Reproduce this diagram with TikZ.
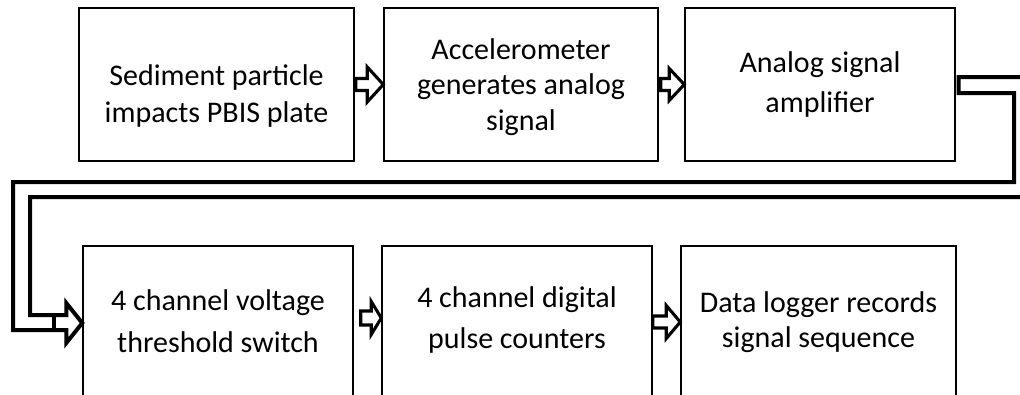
\documentclass[tikz,border=0pt]{standalone}
\usepackage{fontspec}
\setmainfont{Carlito}
\usetikzlibrary{calc}
\tikzset{
  stagebox/.style={draw=black, line width=1.1pt, inner sep=0pt, fill=white},
  stagetext/.style={align=center, inner sep=0pt, font=\fontsize{22.5}{#1}\selectfont},
  smallarrow/.style={draw=black, line width=2.3pt, fill=white, line join=miter},
  bigarrow/.style={draw=black, line width=3pt, line join=miter}
}
% #1 from anchor, #2 start gap, #3 to anchor, #4 dy, #5 shaft half, #6 head half, #7 head length
\newcommand\hollowarrow[7]{%
  \draw[smallarrow] ($(#1)+(#2,#4-#5)$) -- ($(#3)+(-#7,#4-#5)$) -- ($(#3)+(-#7,#4-#6)$)
    -- ($(#3)+(0,#4)$) -- ($(#3)+(-#7,#4+#6)$) -- ($(#3)+(-#7,#4+#5)$)
    -- ($(#1)+(#2,#4+#5)$) -- cycle;}
\begin{document}
\begin{tikzpicture}[x=0.75pt, y=-0.75pt]
\useasboundingbox (0,0) rectangle (1020,394);
\clip (0,0) rectangle (1020,394);
\fill[white] (0,0) rectangle (1020,394);

% boxes
\node[stagebox, minimum width=206.25pt, minimum height=114.75pt] (b1) at (216.5,84.5) {};
\node[stagebox, minimum width=205.5pt,  minimum height=114.75pt] (b2) at (521,84.5) {};
\node[stagebox, minimum width=202.5pt,  minimum height=114.75pt] (b3) at (820,84.5) {};
\node[stagebox, minimum width=202.5pt,  minimum height=115.5pt]  (b4) at (218,323) {};
\node[stagebox, minimum width=202.5pt,  minimum height=115.5pt]  (b5) at (517,323) {};
\node[stagebox, minimum width=206.25pt, minimum height=115.5pt]  (b6) at (818.5,323) {};

% texts
\node[stagetext=27.75pt] (t1) at (216.5,96) {Sediment particle\\impacts PBIS plate};
\node[stagetext=26.6pt]  (t2) at (521,87) {Accelerometer\\generates analog\\signal};
\node[stagetext=30pt]    (t3) at (820,84.5) {Analog signal\\amplifier};
\node[stagetext=31.5pt]  (t4) at (218,321.5) {4 channel voltage\\threshold switch};
\node[stagetext=30.75pt] (t5) at (517,320) {4 channel digital\\pulse counters};
\node[stagetext=26.25pt] (t6) at (818.5,322) {Data logger records\\signal sequence};

% small hollow arrows
\hollowarrow{b1.east}{1}{b2.west}{0}{6}{17.5}{16}
\hollowarrow{b2.east}{2}{b3.west}{0}{6}{16}{15}
\hollowarrow{b4.east}{7}{b5.west}{-5}{7}{16.5}{10}
\hollowarrow{b5.east}{0}{b6.west}{-1}{6}{16.5}{14}

% big connector from amplifier to threshold switch
\draw[bigarrow] ($(b3.east)+(3,-7.5)$) -- (1040,77) -- (1040,197) -- (30,197) -- (30,315)
  -- ($(b4.west)+(-16,-8)$) -- ($(b4.west)+(-16,-20)$) -- (b4.west)
  -- ($(b4.west)+(-16,20)$) -- ($(b4.west)+(-16,7)$) -- (13,330) -- (13,182)
  -- (1014,182) -- (1014,93) -- ($(b3.east)+(3,8.5)$) -- cycle;
\draw[bigarrow] ($(b4.west)+(-28,-8)$) -- ($(b4.west)+(-28,7)$);
\end{tikzpicture}
\end{document}
